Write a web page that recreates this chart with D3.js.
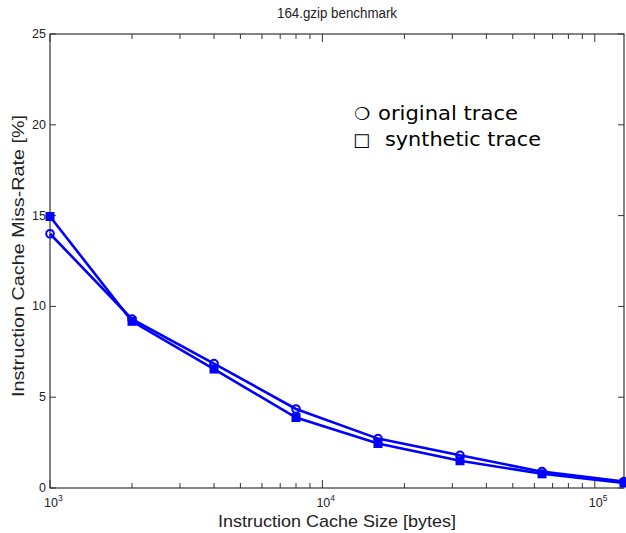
<!DOCTYPE html>
<html lang="en">
<head>
<meta charset="UTF-8">
<title>164.gzip benchmark</title>
<script src="https://cdn.jsdelivr.net/npm/d3@7"></script>
<style>
  body { margin: 0; background: #fff; }
  svg { display: block; }
  text { font-family: "Liberation Sans", Arial, sans-serif; fill: #222; }
  .legend text { font-family: "DejaVu Sans", Verdana, sans-serif; fill: #000; }
</style>
</head>
<body>
<svg id="chart" width="626" height="533"></svg>
<script>
// cache sizes in bytes
var cacheSizes = [1000, 2000, 4000, 8000, 16000, 32000, 64000, 128000];
// miss rate [%]
var originalTrace = [14.0, 9.3, 6.85, 4.35, 2.72, 1.8, 0.9, 0.35];
var syntheticTrace = [14.95, 9.18, 6.55, 3.88, 2.45, 1.5, 0.78, 0.28];
var yTicks = [0, 5, 10, 15, 20, 25];
var xMajor = [1000, 10000, 100000];

var svg = d3.select("#chart");
var m = {left: 50, right: 2, top: 34, bottom: 45};
var width = 626, height = 533;
var x = d3.scaleLog().domain([1000, 128000]).range([m.left, width - m.right]);
var y = d3.scaleLinear().domain([0, 25]).range([height - m.bottom, m.top]);

var x0 = x.range()[0], x1 = x.range()[1], y0 = y.range()[0], y1 = y.range()[1];

// minor ticks for log axis
var xMinor = [];
for (var d = 1000; d <= 100000; d *= 10) {
    for (var k = 2; k <= 9; k++) {
        if (d * k <= 128000) xMinor.push(d * k);
    }
}

var g = svg.append("g");

// ticks bottom and top (inward)
g.selectAll("line.xmin").data(xMinor).enter().append("line")
    .attr("x1", function(d) { return x(d); }).attr("x2", function(d) { return x(d); })
    .attr("y1", y0).attr("y2", y0 - 5).attr("stroke", "#333");
g.selectAll("line.xmint").data(xMinor).enter().append("line")
    .attr("x1", function(d) { return x(d); }).attr("x2", function(d) { return x(d); })
    .attr("y1", y1).attr("y2", y1 + 5).attr("stroke", "#333");
g.selectAll("line.xmaj").data(xMajor).enter().append("line")
    .attr("x1", function(d) { return x(d); }).attr("x2", function(d) { return x(d); })
    .attr("y1", y0).attr("y2", y0 - 8).attr("stroke", "#333");
g.selectAll("line.xmajt").data(xMajor).enter().append("line")
    .attr("x1", function(d) { return x(d); }).attr("x2", function(d) { return x(d); })
    .attr("y1", y1).attr("y2", y1 + 8).attr("stroke", "#333");

// y ticks left and right (inward)
g.selectAll("line.yl").data(yTicks).enter().append("line")
    .attr("x1", x0).attr("x2", x0 + 6)
    .attr("y1", function(d) { return y(d); }).attr("y2", function(d) { return y(d); })
    .attr("stroke", "#333");
g.selectAll("line.yr").data(yTicks).enter().append("line")
    .attr("x1", x1).attr("x2", x1 - 6)
    .attr("y1", function(d) { return y(d); }).attr("y2", function(d) { return y(d); })
    .attr("stroke", "#333");

// box
g.append("rect").attr("x", x0).attr("y", y1)
    .attr("width", x1 - x0).attr("height", y0 - y1)
    .attr("fill", "none").attr("stroke", "#333").attr("stroke-width", 1.2);

// y tick labels
g.selectAll("text.yt").data(yTicks).enter().append("text")
    .attr("x", x0 - 4).attr("y", function(d) { return y(d) + 4; })
    .attr("text-anchor", "end").attr("font-size", 12.5)
    .text(function(d) { return d; });

// x tick labels 10^n
var xl = g.selectAll("text.xt").data(xMajor).enter().append("text")
    .attr("x", function(d) { return x(d) - 6; }).attr("y", 507)
    .attr("font-size", 12.5);
xl.append("tspan").text("10");
xl.append("tspan").attr("dy", -6).attr("font-size", 8.5)
    .text(function(d) { return Math.round(Math.log10(d)); });

// title and axis labels
svg.append("text").attr("x", (x0 + x1) / 2).attr("y", 18)
    .attr("text-anchor", "middle").attr("font-size", 14)
    .attr("textLength", 120).attr("lengthAdjust", "spacingAndGlyphs").text("164.gzip benchmark");
svg.append("text").attr("x", (x0 + x1) / 2).attr("y", 527)
    .attr("text-anchor", "middle").attr("font-size", 17)
    .attr("textLength", 238).attr("lengthAdjust", "spacingAndGlyphs").text("Instruction Cache Size [bytes]");
svg.append("text").attr("transform", "translate(24,256) rotate(-90)")
    .attr("text-anchor", "middle").attr("font-size", 17)
    .attr("textLength", 282).attr("lengthAdjust", "spacingAndGlyphs").text("Instruction Cache Miss-Rate [%]");

// lines
var line = d3.line().x(function(d) { return x(d[0]); }).y(function(d) { return y(d[1]); });
var origData = d3.zip(cacheSizes, originalTrace);
var synData = d3.zip(cacheSizes, syntheticTrace);

var plot = svg.append("g");
plot.append("path").datum(origData).attr("d", line)
    .attr("fill", "none").attr("stroke", "#0000ff").attr("stroke-width", 2.6);
plot.append("path").datum(synData).attr("d", line)
    .attr("fill", "none").attr("stroke", "#0000ff").attr("stroke-width", 2.6);

plot.selectAll("circle").data(origData).enter().append("circle")
    .attr("cx", function(d) { return x(d[0]); }).attr("cy", function(d) { return y(d[1]); })
    .attr("r", 3.8).attr("fill", "none").attr("stroke", "#0000ff").attr("stroke-width", 2);
plot.selectAll("rect").data(synData).enter().append("rect")
    .attr("x", function(d) { return x(d[0]) - 4.5; }).attr("y", function(d) { return y(d[1]) - 4.5; })
    .attr("width", 9).attr("height", 9).attr("fill", "#0000ff");

// legend
var legend = svg.append("g").attr("class", "legend");
legend.append("text").attr("x", 354).attr("y", 120).attr("font-size", 18).text("\u274D");
legend.append("text").attr("x", 378).attr("y", 120).attr("font-size", 20)
    .attr("textLength", 140).attr("lengthAdjust", "spacingAndGlyphs").text("original trace");
legend.append("text").attr("x", 353).attr("y", 146).attr("font-size", 18).text("\u25A1");
legend.append("text").attr("x", 385).attr("y", 146).attr("font-size", 20)
    .attr("textLength", 156).attr("lengthAdjust", "spacingAndGlyphs").text("synthetic trace");
</script>
</body>
</html>
